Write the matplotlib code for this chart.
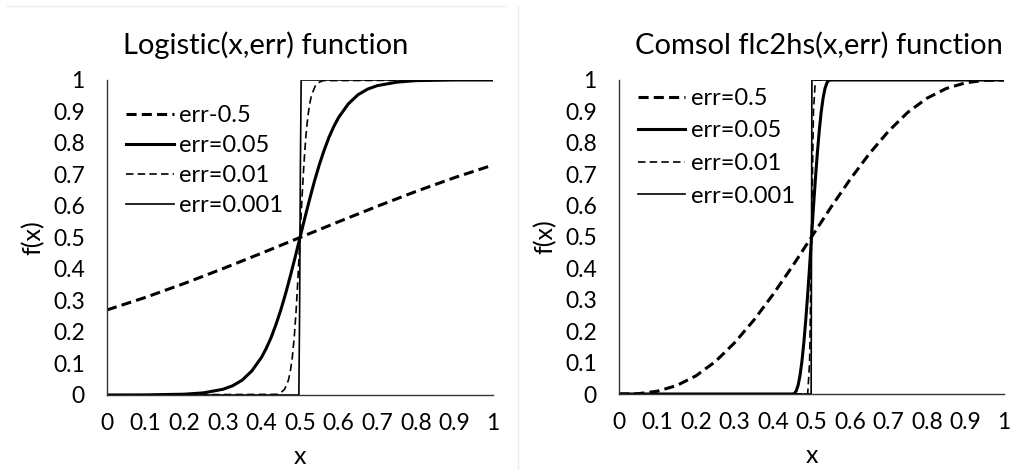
import matplotlib
matplotlib.use("Agg")
import matplotlib.pyplot as plt
from matplotlib.lines import Line2D

plt.rcParams['font.family'] = ['Lato', 'DejaVu Sans']

# ---- data ----
# left panel: Logistic(x, err)
log_x05 = [0, 0.1, 0.2, 0.3, 0.4, 0.5, 0.6, 0.7, 0.8, 0.9, 1]
log_y05 = [0.27, 0.31, 0.354, 0.401, 0.45, 0.5, 0.55, 0.599, 0.646, 0.69, 0.73]

log_x005 = [0, 0.1, 0.2, 0.25, 0.3, 0.325, 0.35, 0.375, 0.4, 0.4125, 0.425, 0.4375, 0.45,
            0.4625, 0.475, 0.4875, 0.5, 0.5125, 0.525, 0.5375, 0.55, 0.5625, 0.575, 0.5875,
            0.6, 0.625, 0.65, 0.675, 0.7, 0.75, 0.8, 0.9, 1]
log_y005 = [0.0, 0.0003, 0.0025, 0.0067, 0.018, 0.029, 0.047, 0.076, 0.119, 0.148, 0.182,
            0.223, 0.269, 0.321, 0.378, 0.438, 0.5, 0.562, 0.622, 0.679, 0.731, 0.777,
            0.818, 0.852, 0.881, 0.924, 0.953, 0.971, 0.982, 0.993, 0.998, 1.0, 1.0]

log_x001 = [0, 0.44, 0.45, 0.46, 0.47, 0.475, 0.48, 0.485, 0.49, 0.495, 0.5,
            0.505, 0.51, 0.515, 0.52, 0.525, 0.53, 0.54, 0.55, 0.56, 1]
log_y001 = [0, 0.002, 0.007, 0.018, 0.047, 0.076, 0.119, 0.182, 0.269, 0.378, 0.5,
            0.622, 0.731, 0.818, 0.881, 0.924, 0.953, 0.982, 0.993, 0.998, 1]

log_x0001 = [0, 0.497, 0.499, 0.5, 0.501, 0.503, 1]
log_y0001 = [0, 0, 0.27, 0.5, 0.73, 1, 1]

# right panel: Comsol flc2hs(x, err)
flc_x05 = [0, 0.05, 0.1, 0.15, 0.2, 0.25, 0.3, 0.35, 0.4, 0.45, 0.5,
           0.55, 0.6, 0.65, 0.7, 0.75, 0.8, 0.85, 0.9, 0.95, 1]
flc_y05 = [0, 0.001, 0.009, 0.027, 0.058, 0.103, 0.163, 0.235, 0.317, 0.406, 0.5,
           0.594, 0.683, 0.765, 0.837, 0.897, 0.942, 0.973, 0.991, 0.999, 1]

flc_x005 = [0, 0.45, 0.455, 0.46, 0.465, 0.47, 0.475, 0.48, 0.485, 0.49, 0.495, 0.5,
            0.505, 0.51, 0.515, 0.52, 0.525, 0.53, 0.535, 0.54, 0.545, 0.55, 1]
flc_y005 = [0, 0, 0.001, 0.009, 0.027, 0.058, 0.103, 0.163, 0.235, 0.317, 0.406, 0.5,
            0.594, 0.683, 0.765, 0.837, 0.897, 0.942, 0.973, 0.991, 0.999, 1, 1]

flc_x001 = [0, 0.49, 0.495, 0.5, 0.505, 0.51, 1]
flc_y001 = [0, 0, 0.10, 0.5, 0.90, 1, 1]

flc_x0001 = [0, 0.499, 0.5, 0.501, 1]
flc_y0001 = [0, 0, 0.5, 1, 1]

ticks = [0, 0.1, 0.2, 0.3, 0.4, 0.5, 0.6, 0.7, 0.8, 0.9, 1]
tick_labels = ['0', '0.1', '0.2', '0.3', '0.4', '0.5', '0.6', '0.7', '0.8', '0.9', '1']


def style_axes(ax):
    ax.set_xlim(0, 1)
    ax.set_ylim(0, 1)
    ax.set_xticks(ticks)
    ax.set_xticklabels(tick_labels)
    ax.set_yticks(ticks)
    ax.set_yticklabels(tick_labels)
    ax.tick_params(length=0, labelsize=16.5, pad=13)
    ax.tick_params(axis='y', pad=16)
    for s in ['top', 'right']:
        ax.spines[s].set_visible(False)
    for s in ['left', 'bottom']:
        ax.spines[s].set_color('#333333')
        ax.spines[s].set_linewidth(1.0)
    ax.set_xlabel('x', fontsize=18, labelpad=8)
    ax.set_ylabel('f(x)', fontsize=18, labelpad=6)


fig = plt.figure(figsize=(10.22, 4.70), dpi=100)
ax1 = fig.add_axes([0.1047, 0.1596, 0.3777, 0.6702])
ax2 = fig.add_axes([0.6057, 0.1617, 0.3767, 0.6681])

thick_dash = dict(color='black', lw=2.2, dashes=(3.3, 1.7))
thick_solid = dict(color='black', lw=2.2)
thin_dash = dict(color='black', lw=1.2, dashes=(4.5, 2.5))
thin_solid = dict(color='black', lw=1.2)

leg_kw = dict(loc='upper left', frameon=False, fontsize=17, handlelength=2.0,
              handletextpad=0.25, borderaxespad=0, borderpad=0)

ax1.plot(log_x05, log_y05, label='err-0.5', **thick_dash)
ax1.plot(log_x005, log_y005, label='err=0.05', **thick_solid)
ax1.plot(log_x001, log_y001, label='err=0.01', **thin_dash)
ax1.plot(log_x0001, log_y0001, label='err=0.001', **thin_solid)
style_axes(ax1)
ax1.legend(bbox_to_anchor=(0.05, 0.92), labelspacing=0.38, **leg_kw)

ax2.plot(flc_x05, flc_y05, label='err=0.5', **thick_dash)
ax2.plot(flc_x005, flc_y005, label='err=0.05', **thick_solid)
ax2.plot(flc_x001, flc_y001, label='err=0.01', **thin_dash)
ax2.plot(flc_x0001, flc_y0001, label='err=0.001', **thin_solid)
style_axes(ax2)
ax2.legend(bbox_to_anchor=(0.05, 0.975), labelspacing=0.49, **leg_kw)

# titles are centred on each chart area, not on the plot area
fig.text(266 / 1022, 1 - 45 / 470, 'Logistic(x,err) function', fontsize=21,
         ha='center', va='center')
fig.text(819 / 1022, 1 - 45 / 470, 'Comsol flc2hs(x,err) function', fontsize=21,
         ha='center', va='center')

# faint chart borders visible in the original
fig.add_artist(Line2D([0.007, 0.495], [0.987, 0.987], color='#ebebeb', lw=1))
fig.add_artist(Line2D([0.507, 0.507], [0.0, 0.987], color='#ebebeb', lw=1))

fig.savefig('out.png', dpi=100)
